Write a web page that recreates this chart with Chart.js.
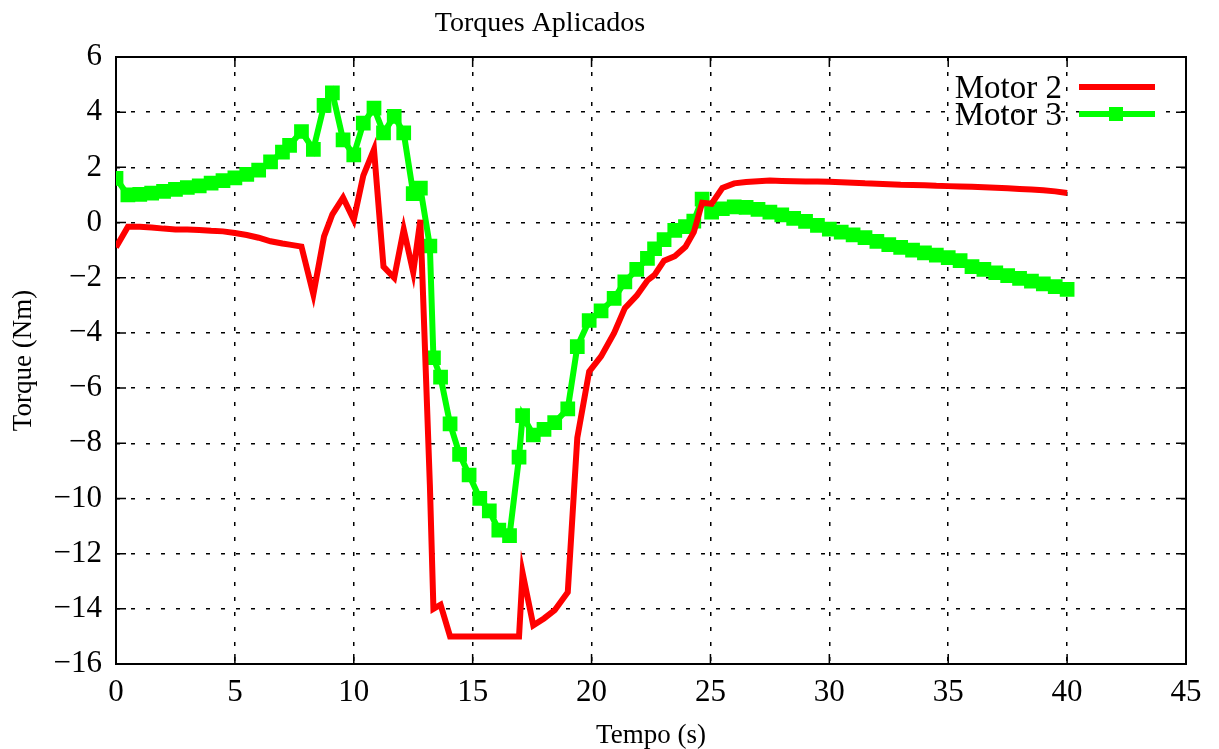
<!DOCTYPE html>
<html>
<head>
<meta charset="utf-8">
<title>Torques Aplicados</title>
<script src="https://cdn.jsdelivr.net/npm/chart.js@4.4.1/dist/chart.umd.min.js"></script>
<style>
  html, body { margin: 0; padding: 0; background: #fff; }
</style>
</head>
<body>
<canvas id="chart" width="1219" height="749"></canvas>
<script>
// tempo (s) - same sampling for both motors
const tempo = [0, 0.5, 1, 1.5, 2, 2.5, 3, 3.5, 4, 4.5, 5, 5.5, 6, 6.5, 7, 7.3, 7.8, 8.3, 8.75, 9.1,
  9.55, 10.0, 10.4, 10.85, 11.25, 11.7, 12.1, 12.5, 12.8, 13.2, 13.35, 13.65, 14.05, 14.45, 14.85, 15.3,
  15.7, 16.1, 16.55, 16.95, 17.1, 17.55, 18.0, 18.45, 19.0, 19.4, 19.9, 20.4, 20.95, 21.4, 21.9, 22.35,
  22.65, 23.05, 23.5, 23.95, 24.3, 24.65, 25.05, 25.5, 26, 26.5, 27, 27.5, 28, 28.5, 29, 29.5, 30, 30.5,
  31, 31.5, 32, 32.5, 33, 33.5, 34, 34.5, 35, 35.5, 36, 36.5, 37, 37.5, 38, 38.5, 39, 39.5, 40];

const motor2 = [-0.9, -0.15, -0.15, -0.18, -0.22, -0.25, -0.25, -0.27, -0.3, -0.32, -0.38, -0.45, -0.55,
  -0.68, -0.76, -0.8, -0.87, -2.6, -0.5, 0.3, 0.9, 0.1, 1.7, 2.65, -1.6, -2.0, -0.25, -1.8, 0.1, -9.5,
  -14.0, -13.85, -15, -15, -15, -15, -15, -15, -15, -15, -12.7, -14.6, -14.35, -14.05, -13.4, -7.8, -5.4,
  -4.85, -4.0, -3.1, -2.65, -2.1, -1.9, -1.38, -1.22, -0.88, -0.35, 0.72, 0.68, 1.25, 1.42, 1.47, 1.5,
  1.52, 1.51, 1.5, 1.49, 1.49, 1.48, 1.46, 1.44, 1.42, 1.41, 1.39, 1.37, 1.36, 1.35, 1.33, 1.32, 1.31,
  1.3, 1.28, 1.26, 1.24, 1.22, 1.2, 1.17, 1.13, 1.07];

const motor3 = [1.6, 1.0, 1.02, 1.07, 1.13, 1.2, 1.27, 1.33, 1.43, 1.52, 1.62, 1.75, 1.9, 2.2, 2.55, 2.8,
  3.3, 2.65, 4.25, 4.7, 3.0, 2.45, 3.6, 4.15, 3.25, 3.85, 3.25, 1.05, 1.25, -0.85, -4.9, -5.6, -7.3, -8.4,
  -9.15, -10.0, -10.45, -11.15, -11.35, -8.5, -7.0, -7.7, -7.5, -7.25, -6.75, -4.5, -3.55, -3.2, -2.75,
  -2.15, -1.7, -1.3, -0.95, -0.62, -0.28, -0.15, 0.05, 0.85, 0.38, 0.5, 0.57, 0.55, 0.48, 0.38, 0.28,
  0.15, 0.04, -0.1, -0.24, -0.35, -0.45, -0.55, -0.68, -0.8, -0.9, -1.0, -1.1, -1.18, -1.27, -1.38, -1.6,
  -1.7, -1.82, -1.92, -2.02, -2.12, -2.22, -2.32, -2.42];

const xTicks = [0, 5, 10, 15, 20, 25, 30, 35, 40, 45];
const yTicks = [-16, -14, -12, -10, -8, -6, -4, -2, 0, 2, 4, 6];

const serif = "'Liberation Serif', 'DejaVu Serif', serif";

function pts(ys) {
  return tempo.map((t, i) => ({ x: t, y: ys[i] }));
}

// gnuplot style frame: box, inner ticks, key and title
const gnuFrame = {
  id: 'gnuFrame',
  beforeDatasetsDraw(chart) {
    const { ctx, chartArea: a, scales } = chart;
    ctx.save();
    ctx.strokeStyle = '#000';
    ctx.lineWidth = 1.5;
    ctx.beginPath();
    xTicks.forEach(v => {
      const px = scales.x.getPixelForValue(v);
      ctx.moveTo(px, a.bottom); ctx.lineTo(px, a.bottom - 10);
      ctx.moveTo(px, a.top); ctx.lineTo(px, a.top + 10);
    });
    yTicks.forEach(v => {
      const py = scales.y.getPixelForValue(v);
      ctx.moveTo(a.left, py); ctx.lineTo(a.left + 10, py);
      ctx.moveTo(a.right, py); ctx.lineTo(a.right - 10, py);
    });
    ctx.stroke();
    ctx.lineWidth = 2;
    ctx.strokeRect(a.left, a.top, a.right - a.left, a.bottom - a.top);
    ctx.restore();
  },
  afterDraw(chart) {
    const { ctx, chartArea: a } = chart;
    ctx.save();
    // title
    ctx.fillStyle = '#000';
    ctx.font = '28px ' + serif;
    ctx.textAlign = 'center';
    ctx.textBaseline = 'middle';
    ctx.fillText('Torques Aplicados', 540, 24);

    // key
    ctx.font = '33px ' + serif;
    ctx.textAlign = 'right';
    chart.data.datasets.forEach((ds, i) => {
      const y = a.top + 30 + i * 27;
      ctx.fillStyle = '#000';
      ctx.fillText(ds.label, a.right - 124, y + 2);
      ctx.strokeStyle = ds.borderColor;
      ctx.lineWidth = ds.borderWidth;
      ctx.beginPath();
      ctx.moveTo(a.right - 107, y);
      ctx.lineTo(a.right - 31, y);
      ctx.stroke();
      if (ds.pointRadius > 0) {
        ctx.fillStyle = ds.pointBackgroundColor;
        ctx.fillRect(a.right - 77, y - 7, 14, 14);
      }
    });
    ctx.restore();
  }
};

new Chart(document.getElementById('chart'), {
  type: 'line',
  data: {
    datasets: [
      {
        label: 'Motor 2',
        data: pts(motor2),
        borderColor: '#ff0000',
        backgroundColor: '#ff0000',
        borderWidth: 6,
        pointRadius: 0,
        tension: 0
      },
      {
        label: 'Motor 3',
        data: pts(motor3),
        borderColor: '#00ff00',
        backgroundColor: '#00ff00',
        pointBackgroundColor: '#00ff00',
        pointBorderColor: '#00ff00',
        borderWidth: 6,
        pointStyle: 'rect',
        pointRadius: 9,
        pointBorderWidth: 2,
        tension: 0
      }
    ]
  },
  options: {
    responsive: false,
    animation: false,
    layout: { padding: { left: 0, right: 33, top: 57, bottom: 0 } },
    plugins: {
      legend: { display: false },
      title: { display: false },
      tooltip: { enabled: false }
    },
    scales: {
      x: {
        type: 'linear',
        min: 0,
        max: 45,
        afterBuildTicks: s => { s.ticks = xTicks.map(v => ({ value: v })); },
        afterFit: s => { s.height = 85; },
        grid: { color: '#000', lineWidth: 1.5, drawTicks: false },
        border: { display: false, dash: [4, 11] },
        ticks: {
          color: '#000',
          padding: 10,
          maxRotation: 0,
          font: { family: serif, size: 31 },
          callback: v => String(v).replace('-', '\u2212')
        },
        title: {
          display: true,
          text: 'Tempo (s)',
          color: '#000',
          font: { family: serif, size: 27, lineHeight: 1 },
          padding: { top: 0, bottom: 0 }
        }
      },
      y: {
        type: 'linear',
        min: -16,
        max: 6,
        afterBuildTicks: s => { s.ticks = yTicks.map(v => ({ value: v })); },
        afterFit: s => { s.width = 116; },
        grid: { color: '#000', lineWidth: 1.5, drawTicks: false },
        border: { display: false, dash: [4, 11] },
        ticks: {
          color: '#000',
          padding: 14,
          font: { family: serif, size: 31 },
          callback: v => String(v).replace('-', '\u2212')
        },
        title: {
          display: true,
          text: 'Torque (Nm)',
          color: '#000',
          font: { family: serif, size: 27, lineHeight: 1 },
          padding: { top: 10, bottom: 0 }
        }
      }
    }
  },
  plugins: [gnuFrame]
});
</script>
</body>
</html>
